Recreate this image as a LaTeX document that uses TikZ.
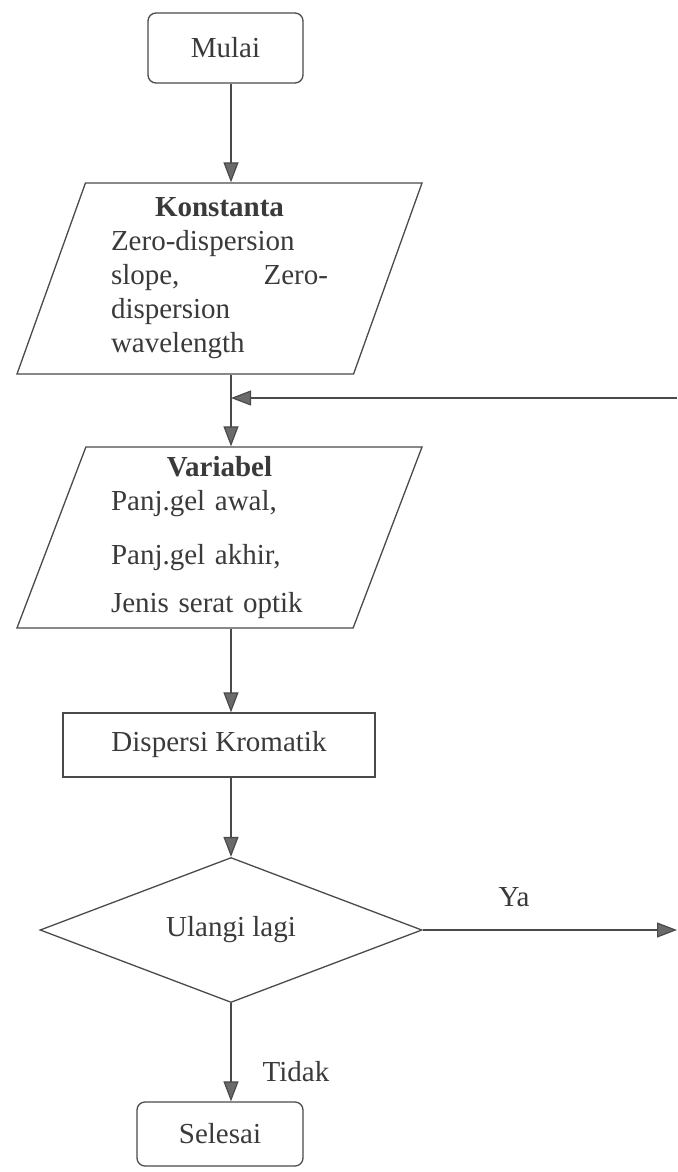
\documentclass[tikz,border=0pt]{standalone}
\usepackage{fontspec}
\setmainfont{Liberation Serif}
\usepackage{tikz}
\usetikzlibrary{positioning,arrows.meta,shapes.geometric,calc}
\definecolor{inkGray}{HTML}{3a3a3a}
\definecolor{lineGray}{HTML}{4a4a4a}
\definecolor{tipGray}{HTML}{6a6a6a}

\begin{document}
\begin{tikzpicture}[
  x=1pt, y=1pt,
  font=\fontsize{29}{34}\selectfont,
  every node/.style={text=inkGray},
  term/.style={rectangle, rounded corners=8pt, draw=lineGray, line width=1.3pt,
    align=center},
  proc/.style={rectangle, draw=lineGray, line width=1.3pt, align=center},
  io/.style={trapezium, trapezium left angle=67, trapezium right angle=113,
    trapezium stretches body, draw=lineGray, line width=1.3pt,
    text width=217pt, align=left, inner sep=0pt},
  dec/.style={diamond, aspect=2.6, draw=lineGray, line width=1.3pt,
    inner sep=0pt, align=center},
  arr/.style={-{Triangle[length=20pt, width=15pt, fill=tipGray]},
    line width=1.2pt, draw=lineGray}
]

\fill[white] (0,0) rectangle (677,-1172);
\useasboundingbox (0,0) rectangle (677,-1172);

\coordinate (axis) at (231,0);

\node[term, minimum width=155pt, minimum height=70pt] (mulai) at (225.5,-48) {Mulai};

\node[io, minimum width=405pt, minimum height=191pt] (konst) at (219.5,-278.5)
  {\makebox[\linewidth]{\bfseries Konstanta}\\
   Zero-dispersion\\
   slope,\hfill Zero-\\
   dispersion\\
   wavelength};
\draw[arr] (mulai.south -| axis) -- (konst.north -| axis);

\node[io, minimum width=405pt, minimum height=181pt] (var) at (219.5,-537.5)
  {\makebox[\linewidth]{\bfseries Variabel}\\
   Panj.gel awal,\\[20pt]
   Panj.gel akhir,\\[14pt]
   Jenis serat optik};
\draw[arr] (konst.south -| axis) -- (var.north -| axis);

% loop back from the right
\coordinate (loopin) at (677,-398);
\draw[arr] (loopin) -- (loopin -| axis);

\node[proc, minimum width=312pt, minimum height=64pt] (dk) at (219,-745) {Dispersi Kromatik};
\draw[arr] (var.south -| axis) -- (dk.north -| axis);

\node[dec, minimum width=382pt, minimum height=145pt] (ulang) at (231,-930) {Ulangi lagi};
\draw[arr] (dk.south -| axis) -- (ulang.north);

\coordinate (yaout) at (677,-930);
\draw[arr] (ulang.east) -- (yaout);
\node (ya) at (514,-897) {Ya};

\node[term, minimum width=166pt, minimum height=64pt] (selesai) at (220,-1134) {Selesai};
\draw[arr] (ulang.south) -- (selesai.north -| axis);
\node (tidak) at (296,-1072) {Tidak};

\end{tikzpicture}
\end{document}
